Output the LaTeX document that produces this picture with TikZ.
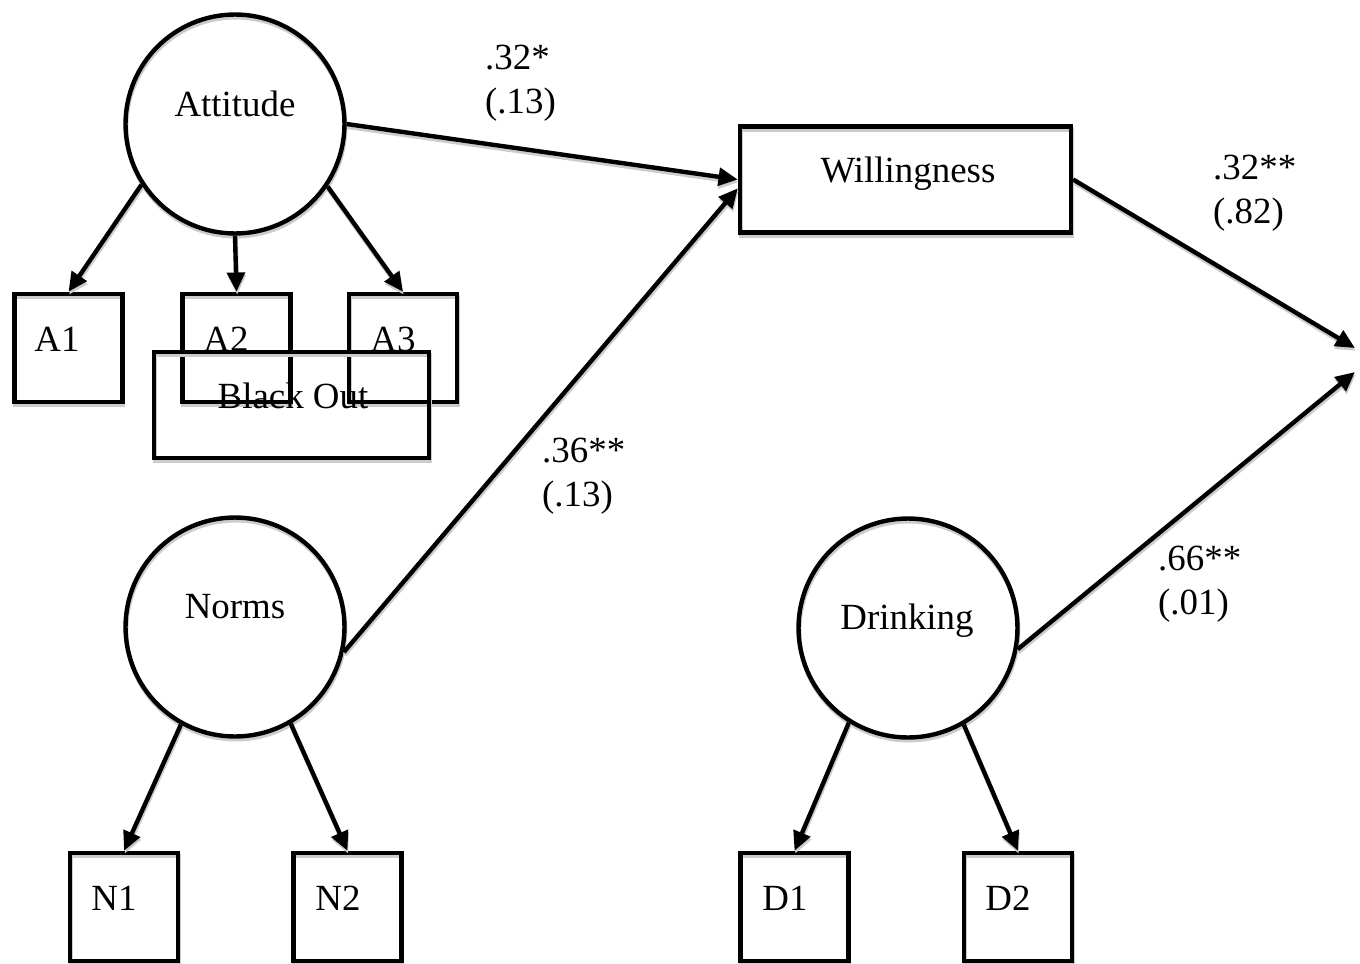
\documentclass[tikz,border=0pt]{standalone}
\usepackage{fontspec}
\setmainfont{Liberation Serif}
\usetikzlibrary{arrows.meta}

\begin{document}
\begin{tikzpicture}[x=0.02cm, y=-0.02cm, >={Triangle[length=11pt,width=10pt]},
        font=\fontsize{21}{25}\selectfont, line width=2.5pt,
        shd/.style={preaction={draw=black!20, transform canvas={shift={(0.4pt,-1.6pt)}}}},
        latent/.style={circle, draw, shd, minimum size=4.38cm, inner sep=0pt},
        manifest/.style={rectangle, draw, shd, minimum width=2.16cm, minimum height=2.16cm, inner sep=0pt},
        arr/.style={->, shd},
        coef/.style={anchor=base west, align=left, inner sep=0pt}]
        \useasboundingbox (0,0) rectangle (1360,964);

        % Latent variables
        \node[latent] (att) at (235,124) {};
        \node[latent] (nrm) at (235,627) {};
        \node[latent] (drk) at (908,628) {};
        \node[anchor=base] (attl) at (235,116) {Attitude};
        \node[anchor=base] (nrml) at (235,618) {Norms};
        \node[anchor=base] (drkl) at (907,629) {Drinking};

        % Outcome
        \node[manifest, minimum width=6.62cm, minimum height=2.12cm] (will) at (905.5,179.5) {};
        \node[anchor=base] (willl) at (908,182) {Willingness};

        % Indicators
        \node[manifest] (a1) at (68.5,348) {};
        \node[manifest] (a2) at (236.5,348) {};
        \node[manifest] (a3) at (403,348) {};
        \node[manifest] (n1) at (124,907) {};
        \node[manifest] (n2) at (347.5,907) {};
        \node[manifest] (d1) at (794.5,907) {};
        \node[manifest] (d2) at (1018,907) {};
        \foreach \n/\x/\y/\t in {a1l/57/351/A1, a2l/226/351/A2, a3l/393/351/A3,
                n1l/114/910/N1, n2l/338/910/N2, d1l/785/910/D1, d2l/1008/910/D2} {
            \node[anchor=base] (\n) at (\x,\y) {\t};
        }

        % Black out box over A2/A3
        \node[manifest, minimum width=5.5cm, minimum height=2.12cm] (bo) at (291.5,405) {};
        \node[anchor=base] (bol) at (293,408) {Black Out};

        % Free ends on the right
        \coordinate (wout) at (1355,348);
        \coordinate (dout) at (1355,372);

        % Structural paths
        \draw[arr] (att.east) -- (will.west);
        \draw[arr] (nrm.-13) -- (will.183.6);
        \draw[arr] (will.east) -- (wout);
        \draw[arr] (drk.-11) -- (dout);

        % Loadings
        \draw[arr] (att.213) -- (a1.north);
        \draw[arr] (att.south) -- (a2.north);
        \draw[arr] (att.-34) -- (a3.north);
        \draw[arr] (nrm.241) -- (n1.north);
        \draw[arr] (nrm.-60) -- (n2.north);
        \draw[arr] (drk.238) -- (d1.north);
        \draw[arr] (drk.-60) -- (d2.north);

        % Coefficients (anchored at the second line)
        \node[coef] (c1) at (483,113) {.32*\\(.13)};
        \node[coef] (c2) at (540,506) {.36**\\(.13)};
        \node[coef] (c3) at (1211,223) {.32**\\(.82)};
        \node[coef] (c4) at (1156,614) {.66**\\(.01)};
    \end{tikzpicture}
\end{document}
